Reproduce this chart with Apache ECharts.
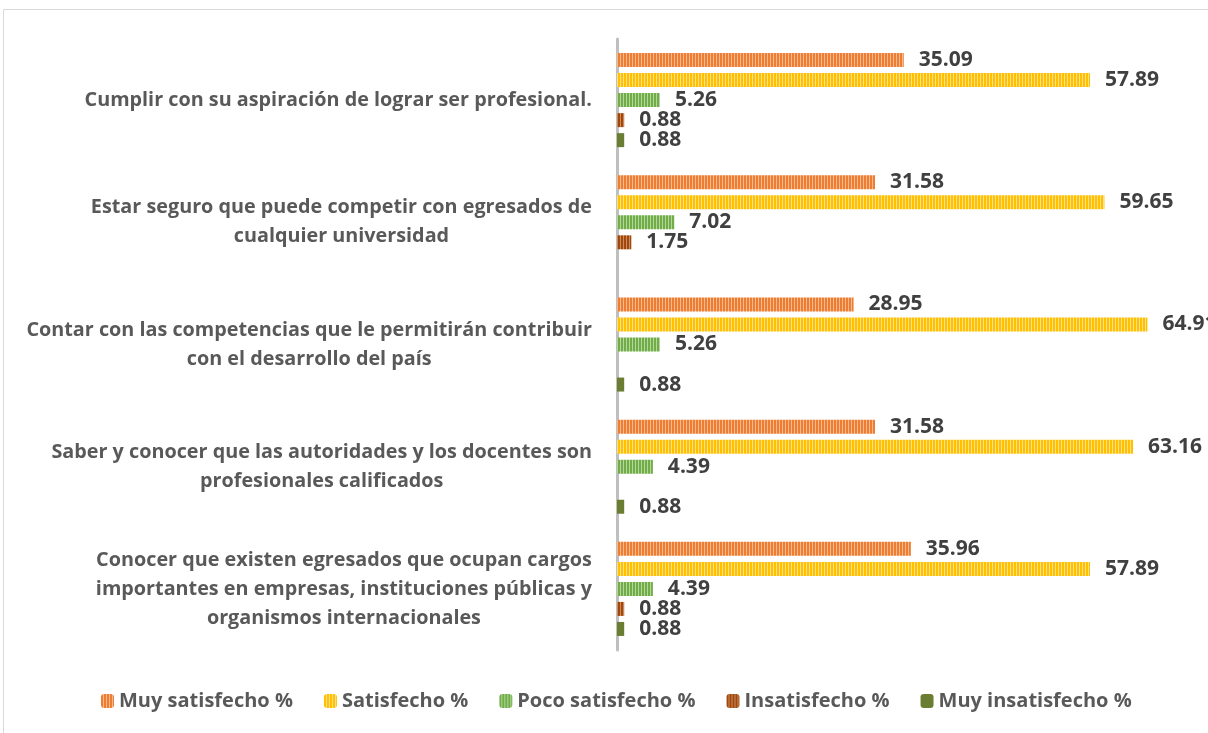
<!DOCTYPE html>
<html>
<head>
    <meta charset="utf-8">
    <script src="https://cdn.jsdelivr.net/npm/echarts@6/dist/echarts.min.js"></script>
    <style>
        html, body { margin: 0; padding: 0; background: #fff; }
    </style>
</head>
<body>
    <div id="chart" style="width: 1208px;height:733px;"></div>
    <script type="text/javascript">
        // categorias (de arriba hacia abajo)
        var categorias = [
            'Cumplir con su aspiración de lograr ser profesional.',
            'Estar seguro que puede competir con egresados de\ncualquier universidad',
            'Contar con las competencias que le permitirán contribuir\ncon el desarrollo del país',
            'Saber y conocer que las autoridades y los docentes son\nprofesionales calificados',
            'Conocer que existen egresados que ocupan cargos\nimportantes en empresas, instituciones públicas y\norganismos internacionales'
        ];
        var nombres = ['Muy satisfecho %', 'Satisfecho %', 'Poco satisfecho %', 'Insatisfecho %', 'Muy insatisfecho %'];
        var muySatisfecho = [35.09, 31.58, 28.95, 31.58, 35.96];
        var satisfecho = [57.89, 59.65, 64.91, 63.16, 57.89];
        var pocoSatisfecho = [5.26, 7.02, 5.26, 4.39, 4.39];
        var insatisfecho = [0.88, 1.75, null, null, 0.88];
        var muyInsatisfecho = [0.88, null, 0.88, 0.88, 0.88];

        var colores = ['#ED7D31', '#FFC000', '#70AD47', '#9E480E', '#6B7D33'];
        var claros = ['#F7B98F', '#FFE08A', '#B5D69E', '#D08A5C', null];
        var fuente = '"Open Sans"';

        // rayas verticales como en excel
        function rayas(c, claro) {
            if (!claro) return c;
            var cv = document.createElement('canvas');
            cv.width = 3; cv.height = 4;
            var ctx = cv.getContext('2d');
            ctx.fillStyle = c;
            ctx.fillRect(0, 0, 3, 4);
            ctx.fillStyle = claro;
            ctx.fillRect(2, 0, 1, 4);
            return { image: cv, repeat: 'repeat' };
        }

        var valores = [muySatisfecho, satisfecho, pocoSatisfecho, insatisfecho, muyInsatisfecho];
        var ser = [];
        for (var i = 0; i < nombres.length; i++) {
            ser.push({
                name: nombres[i],
                type: 'bar',
                data: valores[i],
                barWidth: 14,
                barGap: '43%',
                itemStyle: { color: rayas(colores[i], claros[i]) },
                label: {
                    show: true,
                    position: 'right',
                    distance: 15,
                    color: '#404040',
                    fontFamily: fuente,
                    fontWeight: 'bold',
                    fontSize: 21,
                    formatter: function (p) { return p.value.toFixed(2); }
                }
            });
        }

        var myChart = echarts.init(document.getElementById('chart'));
        var option = {
            animation: false,
            color: colores,
            graphic: [{
                type: 'rect',
                shape: { x: 3.5, y: 9.5, width: 1220, height: 740 },
                style: { fill: 'none', stroke: '#d9d9d9', lineWidth: 1 },
                silent: true
            }],
            legend: {
                bottom: 22,
                left: 101,
                padding: 0,
                itemWidth: 13,
                itemHeight: 14,
                itemGap: 31,
                textStyle: { color: '#595959', fontFamily: fuente, fontWeight: 'bold', fontSize: 20 },
                data: nombres.map(function (n, i) {
                    return { name: n, itemStyle: { color: rayas(colores[i], claros[i]) } };
                })
            },
            grid: { left: 617, right: 19, top: 39, bottom: 83 },
            xAxis: {
                type: 'value',
                min: 0,
                max: 70,
                show: false
            },
            yAxis: {
                type: 'category',
                inverse: true,
                data: categorias,
                axisLine: { lineStyle: { color: '#bfbfbf', width: 3 } },
                axisTick: { show: false },
                axisLabel: {
                    margin: 25,
                    align: 'right',
                    lineHeight: 29,
                    formatter: function (v) {
                        return v.split('\n').map(function (l) { return '{c|' + l + '}'; }).join('\n');
                    },
                    rich: {
                        c: { align: 'center', color: '#595959', fontFamily: fuente, fontWeight: 'bold', fontSize: 19.8, lineHeight: 29 }
                    }
                }
            },
            series: ser
        };
        myChart.setOption(option);
    </script>
</body>
</html>
